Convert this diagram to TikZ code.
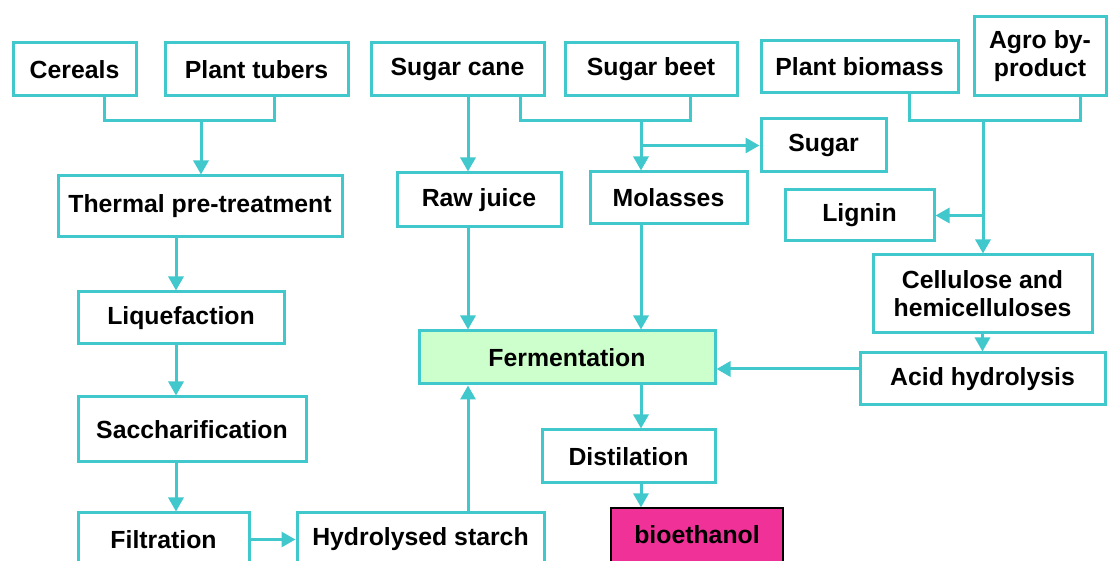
\documentclass[tikz,border=0pt]{standalone}
\usepackage{fontspec}
\setmainfont{Liberation Sans}
\usetikzlibrary{arrows.meta}
\definecolor{flowline}{RGB}{64,200,204}
\definecolor{fermgreen}{RGB}{204,255,204}
\definecolor{ethpink}{RGB}{240,50,152}
\tikzset{
  box/.style={draw=flowline, line width=1.5pt, inner sep=0pt, align=center,
    font=\fontsize{12.4}{14}\selectfont\bfseries},
  link/.style={draw=flowline, line width=1.5pt},
  flow/.style={link, -{Triangle[width=7.5pt,length=7pt]}}
}
\begin{document}
\begin{tikzpicture}[x=0.5pt,y=-0.5pt]
  \useasboundingbox (0,0) rectangle (1110,561);
  % sources
  \node[box, minimum width=61.5pt, minimum height=26.5pt] (cereals) at (74.5,69.5) {Cereals};
  \node[box, minimum width=91.5pt, minimum height=26.5pt] (tubers) at (256.5,69.5) {Plant tubers};
  \node[box, minimum width=86.5pt, minimum height=26.5pt] (cane) at (457.5,69.5) {Sugar cane};
  \node[box, minimum width=86pt, minimum height=26.5pt] (beet) at (651,69.5) {Sugar beet};
  \node[box, minimum width=98.5pt, minimum height=26pt] (biomass) at (859.5,67) {Plant biomass};
  \node[box, minimum width=66pt, minimum height=39.5pt] (agro) at (1040,56.5) {Agro by-\\product};
  % steps
  \node[box, minimum width=62.5pt, minimum height=26.5pt] (sugar) at (823.5,145.5) {Sugar};
  \node[box, minimum width=142pt, minimum height=30.5pt] (thermal) at (200,206.5) {Thermal pre-treatment};
  \node[box, minimum width=82pt, minimum height=27pt] (juice) at (479,200) {Raw juice};
  \node[box, minimum width=78.5pt, minimum height=26pt] (molasses) at (668.5,198) {Molasses};
  \node[box, minimum width=74.5pt, minimum height=25.5pt] (lignin) at (859.5,215.5) {Lignin};
  \node[box, minimum width=109.5pt, minimum height=39pt] (cellulose) at (982.5,294) {Cellulose and\\hemicelluloses};
  \node[box, fill=fermgreen, minimum width=148pt, minimum height=26.5pt] (ferment) at (567,357.5) {Fermentation};
  \node[box, minimum width=122.5pt, minimum height=26pt] (acid) at (982.5,379) {Acid hydrolysis};
  \node[box, minimum width=103pt, minimum height=26pt] (liquef) at (181,318) {Liquefaction};
  \node[box, minimum width=114pt, minimum height=32.5pt] (sacch) at (192,429.5) {Saccharification};
  \node[box, minimum width=86.5pt, minimum height=26.5pt] (distil) at (628.5,456.5) {Distilation};
  \node[box, minimum width=85.5pt, minimum height=26.5pt] (filtr) at (163.5,539.5) {Filtration};
  \node[box, minimum width=123.5pt, minimum height=26.5pt] (hydro) at (420.5,539.5) {Hydrolysed starch};
  \node[box, draw=black, line width=0.6pt, fill=ethpink, minimum width=86pt, minimum height=27pt] (bioeth) at (697,535) {bioethanol};
  % junctions and columns
  \coordinate (ja) at (201,121);
  \coordinate (jb) at (641,121);
  \coordinate (jc) at (983,121);
  \coordinate (xa) at (104,0);
  \coordinate (xb) at (274,0);
  \coordinate (xc) at (520,0);
  \coordinate (xd) at (690,0);
  \coordinate (xe) at (909,0);
  \coordinate (xf) at (1080,0);
  \coordinate (xg) at (468,0);
  \coordinate (xh) at (176,0);
  \coordinate (ya) at (0,369);
  % starch route
  \draw[link] (cereals.south -| xa) |- (ja) -| (tubers.south -| xb);
  \draw[flow] (ja) -- (ja |- thermal.north);
  \draw[flow] (thermal.south -| xh) -- (liquef.north -| xh);
  \draw[flow] (liquef.south -| xh) -- (sacch.north -| xh);
  \draw[flow] (sacch.south -| xh) -- (filtr.north -| xh);
  \draw[flow] (filtr.east) -- (hydro.west);
  \draw[flow] (hydro.north -| xg) -- (ferment.south -| xg);
  % sugar route
  \draw[flow] (cane.south -| xg) -- (juice.north -| xg);
  \draw[flow] (juice.south -| xg) -- (ferment.north -| xg);
  \draw[link] (cane.south -| xc) |- (jb) -| (beet.south -| xd);
  \draw[flow] (jb) -- (jb |- molasses.north);
  \draw[flow] (jb |- sugar.west) -- (sugar.west);
  \draw[flow] (molasses.south -| jb) -- (ferment.north -| jb);
  % lignocellulose route
  \draw[link] (biomass.south -| xe) |- (jc) -| (agro.south -| xf);
  \draw[flow] (jc) -- (jc |- cellulose.north);
  \draw[flow] (jc |- lignin.east) -- (lignin.east);
  \draw[flow] (cellulose.south) -- (acid.north);
  \draw[flow] (acid.west |- ya) -- (ferment.east |- ya);
  % product
  \draw[flow] (ferment.south -| jb) -- (distil.north -| jb);
  \draw[flow] (distil.south -| jb) -- (bioeth.north -| jb);
\end{tikzpicture}
\end{document}
